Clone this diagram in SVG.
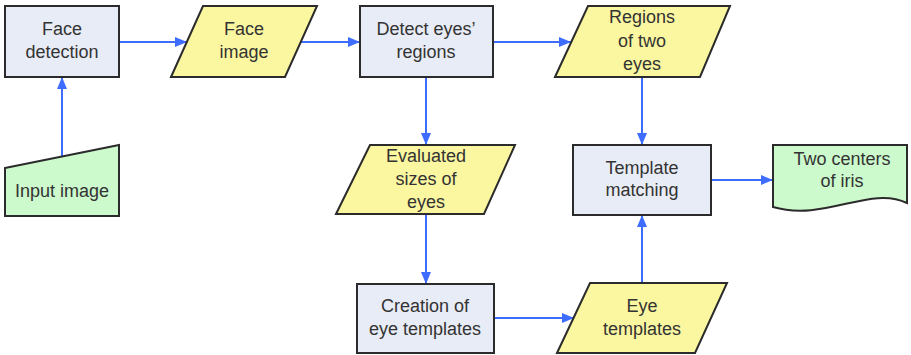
<svg xmlns="http://www.w3.org/2000/svg" width="911" height="355" viewBox="0 0 911 355">
<style>
.proc{fill:#e8ecf6;stroke:#2b2b2b;stroke-width:2}
.data{fill:#fbf7a0;stroke:#2b2b2b;stroke-width:2}
.term{fill:#ccfacc;stroke:#2b2b2b;stroke-width:2}
text{font-family:"Liberation Sans",Arial,sans-serif;font-size:18px;fill:#333;text-anchor:middle}
.conn{stroke:#3d6cff;stroke-width:2;fill:none;marker-end:url(#ah)}
</style>
<defs>
<marker id="ah" viewBox="0 0 12 10" refX="12" refY="5" markerWidth="12" markerHeight="10" markerUnits="userSpaceOnUse" orient="auto">
<path d="M0,0 L12,5 L0,10 Z" fill="#3d6cff"/>
</marker>
</defs>
<g id="connectors">
<line class="conn" x1="119" y1="42" x2="187" y2="42"/>
<line class="conn" x1="301" y1="42" x2="360" y2="42"/>
<line class="conn" x1="493" y1="42" x2="571" y2="42"/>
<line class="conn" x1="642" y1="77" x2="642" y2="145"/>
<line class="conn" x1="426" y1="77" x2="426" y2="145"/>
<line class="conn" x1="426" y1="214" x2="426" y2="284"/>
<line class="conn" x1="494" y1="318" x2="574" y2="318"/>
<line class="conn" x1="642" y1="283" x2="642" y2="215"/>
<line class="conn" x1="711" y1="180" x2="773" y2="180"/>
<line class="conn" x1="62" y1="156" x2="62" y2="77"/>
</g>
<g id="face-detection">
<rect class="proc" x="5" y="6" width="114" height="71"/>
<text x="62" y="35">Face</text>
<text x="62" y="58">detection</text>
</g>
<g id="face-image">
<polygon class="data" points="171,77 203,6 317,6 285,77"/>
<text x="244" y="35">Face</text>
<text x="244" y="58">image</text>
</g>
<g id="detect-eyes">
<rect class="proc" x="360" y="6" width="133" height="71"/>
<text x="426" y="35">Detect eyes’</text>
<text x="426" y="58">regions</text>
</g>
<g id="regions-two-eyes">
<polygon class="data" points="555,77 588,6 730,6 700,77"/>
<text x="642" y="23">Regions</text>
<text x="642" y="47">of two</text>
<text x="642" y="70">eyes</text>
</g>
<g id="input-image">
<polygon class="term" points="5,168 119,145 119,216 5,216"/>
<text x="62" y="197">Input image</text>
</g>
<g id="evaluated-sizes">
<polygon class="data" points="336,214 370,145 515,145 484,214"/>
<text x="426" y="162">Evaluated</text>
<text x="426" y="185">sizes of</text>
<text x="426" y="208">eyes</text>
</g>
<g id="template-matching">
<rect class="proc" x="573" y="145" width="138" height="70"/>
<text x="642" y="174">Template</text>
<text x="642" y="196">matching</text>
</g>
<g id="two-centers">
<path class="term" d="M773,145 H907 V203 C870,185 825,222 773,207 Z"/>
<text x="842" y="165">Two centers</text>
<text x="842" y="187">of iris</text>
</g>
<g id="creation-templates">
<rect class="proc" x="357" y="284" width="137" height="69"/>
<text x="425" y="312">Creation of</text>
<text x="425" y="335">eye templates</text>
</g>
<g id="eye-templates">
<polygon class="data" points="557,353 590,283 727,283 695,353"/>
<text x="642" y="312">Eye</text>
<text x="642" y="335">templates</text>
</g>
</svg>
